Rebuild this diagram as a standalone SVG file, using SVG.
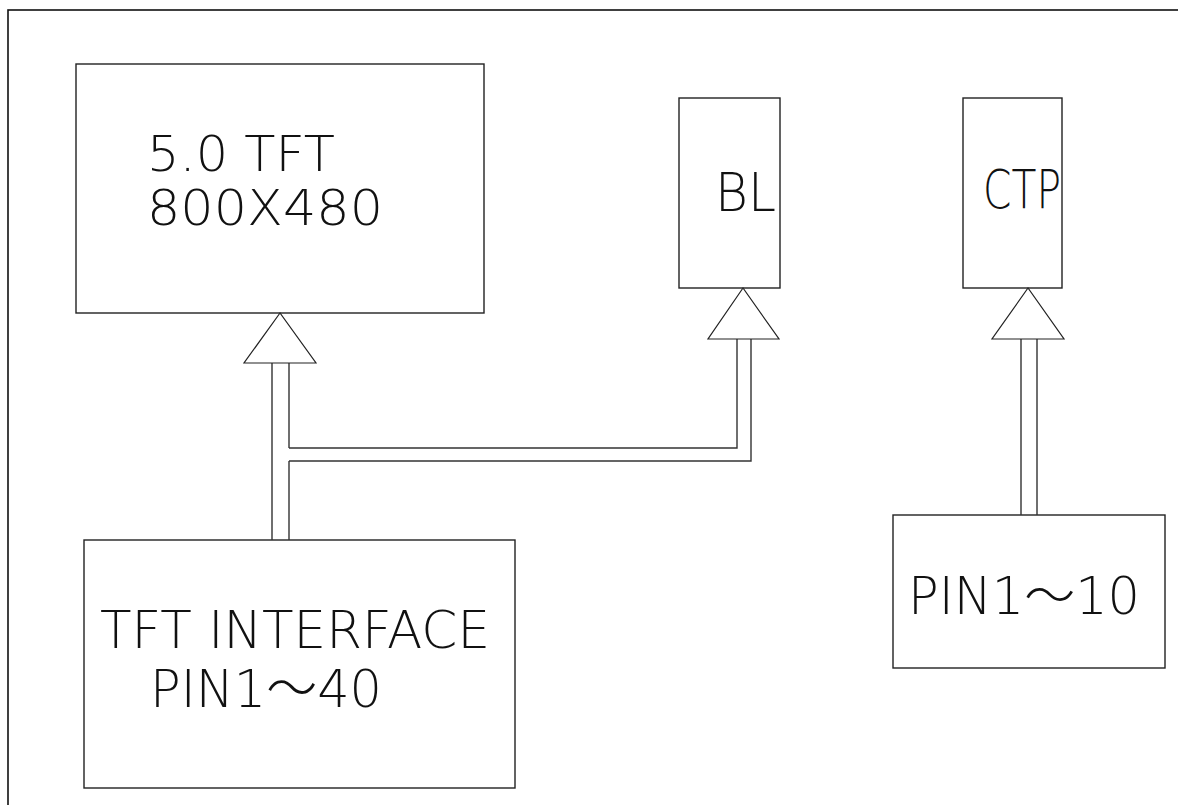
<svg xmlns="http://www.w3.org/2000/svg" width="1178" height="805" viewBox="0 0 1178 805">
<style>
.b{fill:#fff;stroke:#222;stroke-width:1.4}
.l{fill:none;stroke:#333;stroke-width:1.4}
.a{fill:#fff;stroke:#222;stroke-width:1.2;stroke-linejoin:miter}
.t{font-family:"DejaVu Sans","Liberation Sans","Noto Sans CJK SC",sans-serif;font-weight:200;fill:#111}
</style>
<rect x="0" y="0" width="1178" height="805" fill="#fff"/>
<rect id="frame" x="8" y="10" width="1200" height="900" fill="none" stroke="#111" stroke-width="1.6"/>
<g id="tft">
<rect class="b" x="76" y="64" width="408" height="249"/>
<text class="t" x="147" y="171" font-size="49" textLength="188" lengthAdjust="spacingAndGlyphs">5.0 TFT</text>
<text class="t" x="147" y="225" font-size="49" textLength="236" lengthAdjust="spacingAndGlyphs">800X480</text>
</g>
<g id="bl">
<rect class="b" x="679" y="98" width="101" height="190"/>
<text class="t" x="715" y="211" font-size="54" textLength="61" lengthAdjust="spacingAndGlyphs">BL</text>
</g>
<g id="ctp">
<rect class="b" x="963" y="98" width="99" height="190"/>
<text class="t" x="983" y="208" font-size="54" textLength="78" lengthAdjust="spacingAndGlyphs">CTP</text>
</g>
<g id="iface">
<rect class="b" x="84" y="540" width="431" height="248"/>
<text class="t" x="100" y="648" font-size="52" textLength="390" lengthAdjust="spacingAndGlyphs">TFT INTERFACE</text>
<text class="t" x="150" y="707" font-size="52" textLength="232" lengthAdjust="spacingAndGlyphs">PIN1～40</text>
</g>
<g id="pin10">
<rect class="b" x="893" y="515" width="272" height="153"/>
<text class="t" x="908" y="614" font-size="51" textLength="232" lengthAdjust="spacingAndGlyphs">PIN1～10</text>
</g>
<g id="connectors">
<path class="l" d="M272 540 V363 M289 540 V461 M289 448 V363"/>
<path class="l" d="M289 448 H737 V339 M289 461 H751 V339"/>
<path class="l" d="M1021 515 V339 M1037 515 V339"/>
<polygon class="a" points="280,313 244,363 316,363"/>
<polygon class="a" points="743,288 708,339 779,339"/>
<polygon class="a" points="1028,288 992,339 1064,339"/>
</g>
</svg>
